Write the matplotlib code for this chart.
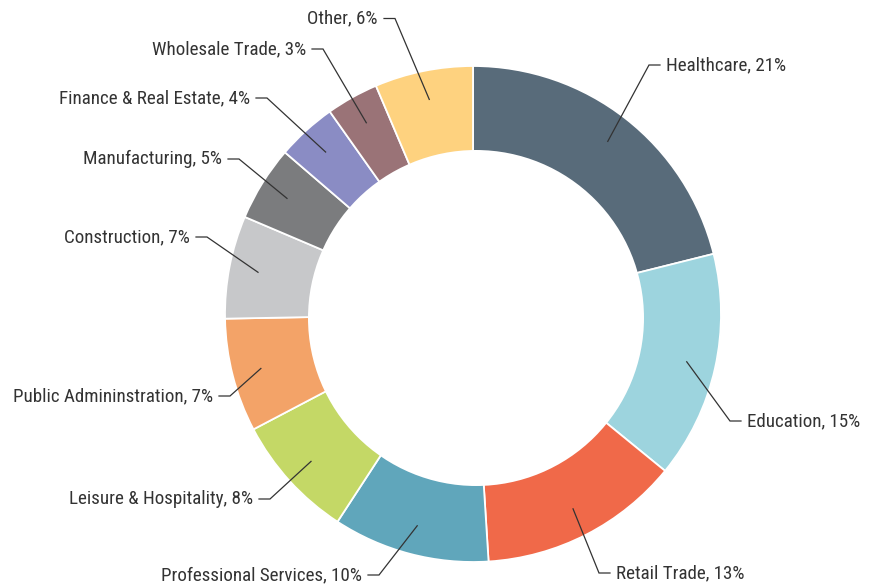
import matplotlib
matplotlib.use("Agg")
import matplotlib.pyplot as plt
from matplotlib.patches import Circle
from matplotlib import font_manager
import numpy as np

# ---- data ----
categories = ["Healthcare", "Education", "Retail Trade", "Professional Services",
              "Leisure & Hospitality", "Public Admininstration", "Construction",
              "Manufacturing", "Finance & Real Estate", "Wholesale Trade", "Other"]
shares = [21.1, 14.8, 13.1, 10.2, 8.1, 7.4, 6.7, 4.9, 3.9, 3.4, 6.4]   # slice sizes
label_pct = [21, 15, 13, 10, 8, 7, 7, 5, 4, 3, 6]                      # percentages printed in labels
colors = ["#586b7a", "#9dd4de", "#f06949", "#60a6bb", "#c4d866", "#f3a368",
          "#c7c8ca", "#7b7c7e", "#8a8cc4", "#9a7377", "#fed27f"]

# ---- layout (pixels) ----
W, H = 886, 585
cx, cy = 473, H - 314
R_OUT = 248
hole_c = (476, H - 318)
R_IN = 168
R_LEAD = 219
# label elbow offsets from the donut centre (px, y up)
elbow = [(176, 249), (257, -107), (126, -259), (-94, -261), (-203, -185),
         (-243, -82), (-266, 77), (-234, 155), (-206, 216), (-150, 265), (-78, 295.5)]

installed = {f.name for f in font_manager.fontManager.ttflist}
condensed = [n for n in ["Roboto Condensed", "Liberation Sans Narrow", "Arial Narrow",
                         "Open Sans Condensed"] if n in installed]
if condensed:
    font, fsize = [condensed[0], "DejaVu Sans"], 13.7
else:
    font, fsize = ["Liberation Sans", "DejaVu Sans"], 12.3

fig = plt.figure(figsize=(W / 100, H / 100), dpi=100)
ax = fig.add_axes([0, 0, 1, 1])

wedges, _ = ax.pie(shares, colors=colors, startangle=90, counterclock=False,
                   radius=R_OUT, center=(cx, cy),
                   wedgeprops=dict(edgecolor="white", linewidth=1.3))
ax.add_patch(Circle(hole_c, R_IN, facecolor="white", edgecolor="none", zorder=5))

ax.set_xlim(0, W)
ax.set_ylim(0, H)
ax.set_aspect("equal")
ax.axis("off")

total = sum(shares)
cum = 0.0
for name, s, p, (ex, ey) in zip(categories, shares, label_pct, elbow):
    mid = (cum + s / 2) / total * 2 * np.pi
    cum += s
    sx = cx + R_LEAD * np.sin(mid)
    sy = cy + R_LEAD * np.cos(mid)
    kx, ky = cx + ex, cy + ey
    right = ex > 0
    hx = kx + (11 if right else -11)
    ax.plot([sx, kx, hx], [sy, ky, ky], color="#333333", lw=0.9,
            solid_joinstyle="miter", zorder=6)
    tx = hx + (6 if right else -6)
    ax.text(tx, ky, f"{name}, {p}%", ha="left" if right else "right",
            va="center", fontsize=fsize, color="#333333", family=font, zorder=7)

fig.savefig("out.png", dpi=100, facecolor="white")
